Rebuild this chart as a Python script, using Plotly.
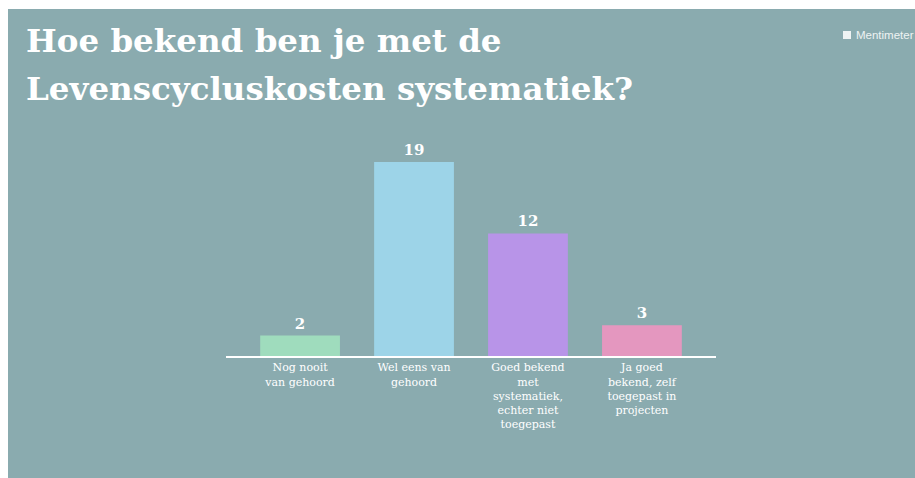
import plotly.graph_objects as go

categories = [
    "Nog nooit<br>van gehoord",
    "Wel eens van<br>gehoord",
    "Goed bekend<br>met<br>systematiek,<br>echter niet<br>toegepast",
    "Ja goed<br>bekend, zelf<br>toegepast in<br>projecten",
]
values = [2, 19, 12, 3]
bar_colors = ["#9fdcbd", "#9dd4e8", "#b894e8", "#e497bf"]
title_lines = ["Hoe bekend ben je met de", "Levenscycluskosten systematiek?"]

BG = "#8aabaf"
W, H = 915, 478
L, R, T, B = 226, 199, 162, 122
pw, ph = W - L - R, H - T - B

def px_x(p):
    return (p - L) / pw

def px_y(p):
    return (H - B - p) / ph

fig = go.Figure(
    go.Bar(
        x=list(range(len(categories))),
        y=values,
        marker=dict(color=bar_colors, line=dict(width=0)),
        width=0.70,
        text=[str(v) for v in values],
        textposition="outside",
        textfont=dict(family="DejaVu Serif", size=15, color="white", weight="bold"),
        cliponaxis=False,
    )
)

annotations = []
for i, line in enumerate(title_lines):
    annotations.append(dict(
        text=line, xref="paper", yref="paper",
        x=px_x(24), y=px_y(19 + 48 * i), xanchor="left", yanchor="top",
        showarrow=False,
        font=dict(family="DejaVu Serif", size=32.5, color="white", weight="bold"),
    ))
annotations.append(dict(
    text="Mentimeter", xref="paper", yref="paper",
    x=px_x(854), y=px_y(35), xanchor="left", yanchor="middle",
    showarrow=False,
    font=dict(family="Liberation Sans", size=11.5, color="#eef3f3"),
))

fig.update_layout(
    width=W,
    height=H,
    margin=dict(l=L, r=R, t=T, b=B),
    paper_bgcolor=BG,
    plot_bgcolor=BG,
    showlegend=False,
    xaxis=dict(
        tickmode="array",
        tickvals=list(range(len(categories))),
        ticktext=categories,
        range=[-0.65, 3.65],
        showgrid=False,
        zeroline=False,
        showline=True,
        linecolor="white",
        linewidth=2,
        ticks="",
        tickfont=dict(family="DejaVu Serif", size=11, color="white"),
        fixedrange=True,
    ),
    yaxis=dict(
        range=[0, 19],
        visible=False,
        fixedrange=True,
    ),
    shapes=[
        dict(type="rect", xref="paper", yref="paper",
             x0=px_x(0), x1=px_x(8), y0=px_y(H), y1=px_y(0),
             fillcolor="white", line=dict(width=0), layer="above"),
        dict(type="rect", xref="paper", yref="paper",
             x0=px_x(0), x1=px_x(W), y0=px_y(9), y1=px_y(0),
             fillcolor="white", line=dict(width=0), layer="above"),
        dict(type="rect", xref="paper", yref="paper",
             x0=px_x(843), x1=px_x(851), y0=px_y(39), y1=px_y(31),
             fillcolor="#eef3f3", line=dict(width=0), layer="above"),
    ],
    annotations=annotations,
)

fig.write_html("out.html")
